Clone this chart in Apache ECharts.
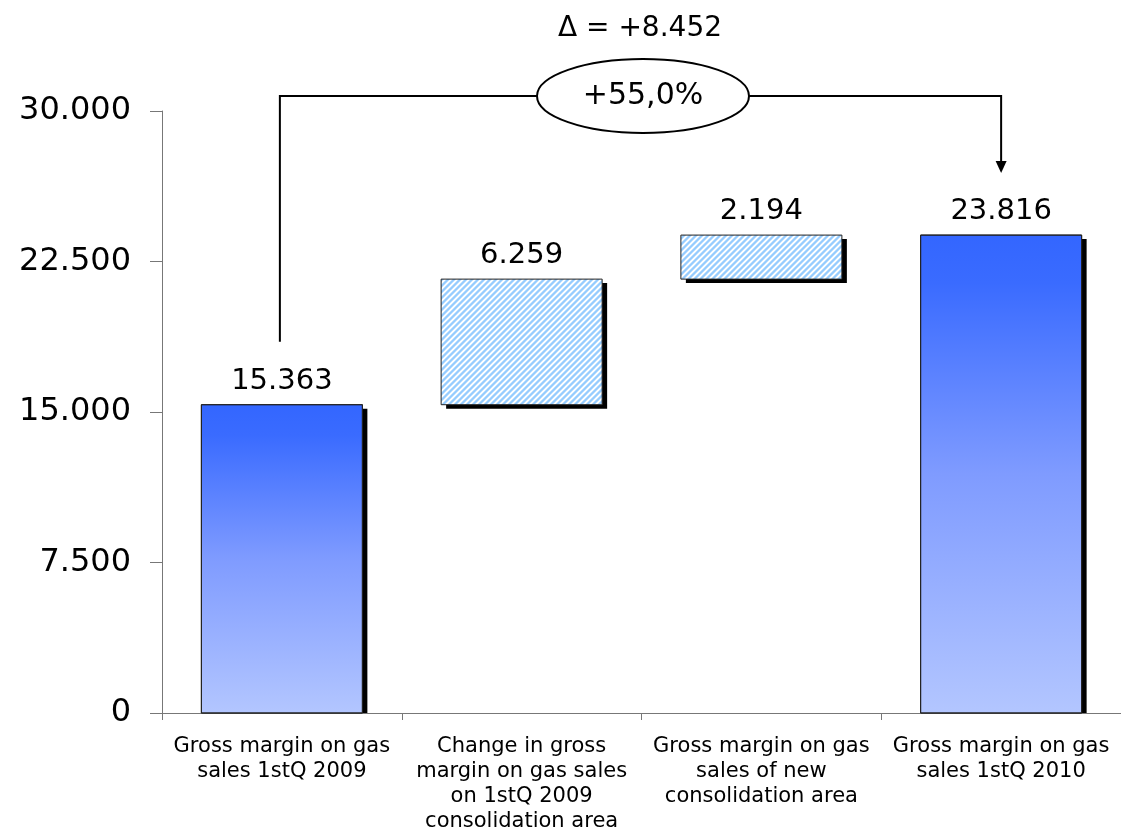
<!DOCTYPE html>
<html>
<head>
<meta charset="utf-8">
<script src="https://cdn.jsdelivr.net/npm/echarts@6/dist/echarts.min.js"></script>
<style>
  html, body { margin: 0; padding: 0; background: #fff; }
  #chart { width: 1121px; height: 839px; }
</style>
</head>
<body>
<div id="chart"></div>
<script>
// Waterfall of gross margin on gas sales, 1stQ 2009 -> 1stQ 2010
const categories = [
  'Gross margin on gas\nsales 1stQ 2009',
  'Change in gross\nmargin on gas sales\non 1stQ 2009\nconsolidation area',
  'Gross margin on gas\nsales of new\nconsolidation area',
  'Gross margin on gas\nsales 1stQ 2010'
];
const barValues = [15363, 6259, 2194, 23816];   // height of each visible bar
const baseValues = [0, 15363, 21622, 0];          // where each bar starts
const barKinds = ['total', 'delta', 'delta', 'total'];
const yTicks = [0, 7500, 15000, 22500, 30000];
const deltaText = '\u0394 = +8.452';
const pctText = '+55,0%';

const FONT = 'DejaVu Sans';

function fmt(v) {
  return String(Math.round(v)).replace(/\B(?=(\d{3})+(?!\d))/g, '.');
}

// Diagonal light-blue hatch used by the floating bars
function hatchCanvas() {
  const p = 6;
  const c = document.createElement('canvas');
  c.width = p; c.height = p;
  const ctx = c.getContext('2d');
  const img = ctx.createImageData(p, p);
  const shades = [[150, 204], [150, 204], [190, 224], [255, 255], [255, 255], [190, 224]];
  for (let y = 0; y < p; y++) {
    for (let x = 0; x < p; x++) {
      const k = (x + y) % p;
      const i = (y * p + x) * 4;
      img.data[i] = shades[k][0];
      img.data[i + 1] = shades[k][1];
      img.data[i + 2] = 255;
      img.data[i + 3] = 255;
    }
  }
  ctx.putImageData(img, 0, 0);
  return c;
}

const gradientFill = new echarts.graphic.LinearGradient(0, 0, 0, 1, [
  { offset: 0, color: '#3366ff' },
  { offset: 0.1, color: '#3a6bff' },
  { offset: 0.5, color: '#7f9bff' },
  { offset: 1, color: '#b3c6ff' }
]);
const hatchFill = { image: hatchCanvas(), repeat: 'repeat' };

const BAR_W = 161;
const SHADOW_X = 5, SHADOW_Y = 4;

const seriesData = barValues.map((v, i) => [i, baseValues[i], v]);

function renderBar(params, api) {
  const i = api.value(0);
  const base = api.value(1);
  const val = api.value(2);
  const pBase = api.coord([i, base]);
  const pTop = api.coord([i, base + val]);
  const x = pBase[0] - BAR_W / 2;
  const y = pTop[1];
  const h = pBase[1] - pTop[1];
  const isTotal = barKinds[i] === 'total';
  const shadowH = isTotal ? h - SHADOW_Y : h;
  return {
    type: 'group',
    children: [
      {
        type: 'rect',
        shape: { x: x + SHADOW_X, y: y + SHADOW_Y, width: BAR_W, height: shadowH },
        style: { fill: '#000' }
      },
      {
        type: 'rect',
        shape: { x: x, y: y, width: BAR_W, height: h },
        style: {
          fill: isTotal ? gradientFill : hatchFill,
          stroke: '#222',
          lineWidth: 1
        }
      },
      {
        type: 'text',
        style: {
          text: fmt(val),
          x: pBase[0],
          y: y - 9,
          align: 'center',
          verticalAlign: 'bottom',
          fill: '#000',
          font: '29px "' + FONT + '"'
        }
      }
    ]
  };
}

const chart = echarts.init(document.getElementById('chart'), null, { renderer: 'canvas' });

chart.setOption({
  backgroundColor: '#ffffff',
  animation: false,
  grid: { left: 162, right: 0, top: 111, bottom: 126, containLabel: false },
  xAxis: {
    type: 'category',
    data: categories,
    boundaryGap: true,
    axisLine: { show: true, lineStyle: { color: '#777', width: 1 } },
    axisTick: { show: true, length: 7, lineStyle: { color: '#777' } },
    axisLabel: {
      interval: 0,
      color: '#000',
      fontFamily: FONT,
      fontSize: 21,
      lineHeight: 25,
      margin: 21
    }
  },
  yAxis: {
    type: 'value',
    min: yTicks[0],
    max: yTicks[yTicks.length - 1],
    interval: yTicks[1] - yTicks[0],
    axisLine: { show: true, lineStyle: { color: '#777', width: 1 } },
    axisTick: { show: true, length: 12, lineStyle: { color: '#777' } },
    splitLine: { show: false },
    axisLabel: {
      color: '#000',
      fontFamily: FONT,
      fontSize: 32,
      margin: 31,
      formatter: v => fmt(v)
    }
  },
  series: [
    {
      type: 'custom',
      renderItem: renderBar,
      data: seriesData,
      encode: { x: 0, y: [1, 2] },
      clip: false
    }
  ]
});

// Bracket connecting first and last bars, with the change annotation
function drawBracket() {
  const start = chart.convertToPixel({ gridIndex: 0 }, [0, baseValues[0] + barValues[0]]);
  const end = chart.convertToPixel({ gridIndex: 0 }, [3, baseValues[3] + barValues[3]]);
  const topY = 96;
  const x1 = start[0] - 2;
  const x2 = end[0];
  const y1 = start[1] - 63;
  const y2 = end[1] - 62;
  const cx = 643, rx = 106, ry = 37;
  chart.setOption({
    graphic: [
      {
        type: 'polyline',
        shape: { points: [[x1, y1], [x1, topY], [cx - rx, topY]] },
        style: { stroke: '#000', lineWidth: 2, fill: null }
      },
      {
        type: 'polyline',
        shape: { points: [[cx + rx, topY], [x2, topY], [x2, y2 - 10]] },
        style: { stroke: '#000', lineWidth: 2, fill: null }
      },
      {
        type: 'polygon',
        shape: { points: [[x2 - 5.5, y2 - 12], [x2 + 5.5, y2 - 12], [x2, y2]] },
        style: { fill: '#000' }
      },
      {
        type: 'ellipse',
        shape: { cx: cx, cy: topY, rx: rx, ry: ry },
        style: { fill: '#fff', stroke: '#000', lineWidth: 2 }
      },
      {
        type: 'text',
        x: cx, y: topY,
        style: {
          text: pctText, fill: '#000', font: '30px "' + FONT + '"',
          align: 'center', verticalAlign: 'middle'
        }
      },
      {
        type: 'text',
        x: 640, y: 29,
        style: {
          text: deltaText, fill: '#000', font: '28px "' + FONT + '"',
          align: 'center', verticalAlign: 'middle'
        }
      }
    ]
  });
}
drawBracket();
</script>
</body>
</html>
